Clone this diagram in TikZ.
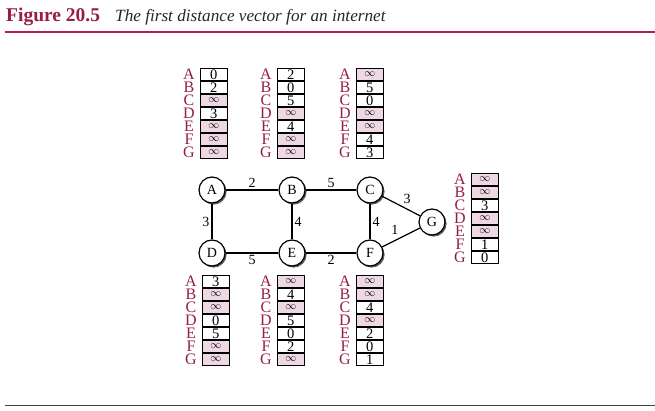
\documentclass[tikz,border=0pt]{standalone}
\usepackage{fontspec}
\setmainfont{Liberation Serif}
\usetikzlibrary{shadows}

\definecolor{maroon}{RGB}{150,30,70}
\definecolor{rulered}{RGB}{185,25,75}
\definecolor{infpink}{RGB}{238,216,228}

\tikzset{
  router/.style={circle, draw, line width=1.2pt, fill=white, minimum size=26pt, inner sep=0pt,
    font=\fontsize{14}{14}\selectfont,
    drop shadow={shadow xshift=1.6pt, shadow yshift=-1.6pt, fill=black!65, opacity=1}},
  link/.style={line width=1.2pt},
  cost/.style={font=\fontsize{14}{14}\selectfont, inner sep=2pt},
  cell/.style={draw, line width=0.6pt, minimum width=27pt, minimum height=12pt, inner sep=0pt,
    text height=9.5pt, text depth=0pt, anchor=north west, font=\fontsize{14.5}{12}\selectfont},
  infcell/.style={cell, fill=infpink, text height=5pt, font=\fontsize{11}{11}\selectfont},
  rowlabel/.style={text=maroon, inner sep=0pt, text height=10pt, text depth=0pt,
    font=\fontsize{16}{13}\selectfont}
}

\def\infval{i}
% distance vector table: name, top left corner of the boxes, values (i = infinity)
\newcommand{\dvtable}[3]{%
  \begin{scope}[shift={(#2)}]
    \foreach \v [count=\i] in {#3} {
      \ifx\v\infval
        \node[infcell] (#1\i) at (0,{(\i-1)*13}) {$\infty$};
      \else
        \node[cell] (#1\i) at (0,{(\i-1)*13}) {\v};
      \fi
    }
    \foreach \l [count=\i] in {A,B,C,D,E,F,G}
      \node[rowlabel] at (-11,{(\i-1)*13+6.5}) {\l};
  \end{scope}
}

\begin{document}
\begin{tikzpicture}[x=1pt,y=-1pt]
  \useasboundingbox (0,0) rectangle (655,411);

  % Heading
  \node[anchor=base west, inner sep=0pt, text=maroon, font=\bfseries\fontsize{19.5}{20}\selectfont] (figno) at (6,22) {Figure 20.5};
  \node[anchor=base west, inner sep=0pt, text=black!85, font=\itshape\fontsize{17.2}{18}\selectfont] (figtitle) at (115,22) {The first distance vector for an internet};
  \draw[rulered, line width=2.5pt] (5,32) -- (655,32);
  \draw[black!75, line width=0.8pt] (5,405) -- (655,405);

  % Routers
  \node[router] (A) at (212,190) {A};
  \node[router] (B) at (292,190) {B};
  \node[router] (C) at (370,190) {C};
  \node[router] (D) at (212,253) {D};
  \node[router] (E) at (292,253) {E};
  \node[router] (F) at (370,253) {F};
  \node[router] (G) at (432,222) {G};

  % Links
  \draw[link] (A) -- node[cost, above] {2} (B);
  \draw[link] (B) -- node[cost, above] {5} (C);
  \draw[link] (A) -- node[cost, left] {3} (D);
  \draw[link] (B) -- node[cost, right] {4} (E);
  \draw[link] (C) -- node[cost, right] {4} (F);
  \draw[link] (C) -- node[cost, above right] {3} (G);
  \draw[link] (F) -- node[cost, above left] {1} (G);
  \draw[link] (D) -- node[cost, below] {5} (E);
  \draw[link] (E) -- node[cost, below] {2} (F);

  % Tables
  \dvtable{tA}{200,68}{0,2,i,3,i,i,i}
  \dvtable{tB}{277,68}{2,0,5,i,4,i,i}
  \dvtable{tC}{356,68}{i,5,0,i,i,4,3}
  \dvtable{tD}{202,275}{3,i,i,0,5,i,i}
  \dvtable{tE}{277,275}{i,4,i,5,0,2,i}
  \dvtable{tF}{356,275}{i,i,4,i,2,0,1}
  \dvtable{tG}{471,173}{i,i,3,i,i,1,0}
\end{tikzpicture}
\end{document}
